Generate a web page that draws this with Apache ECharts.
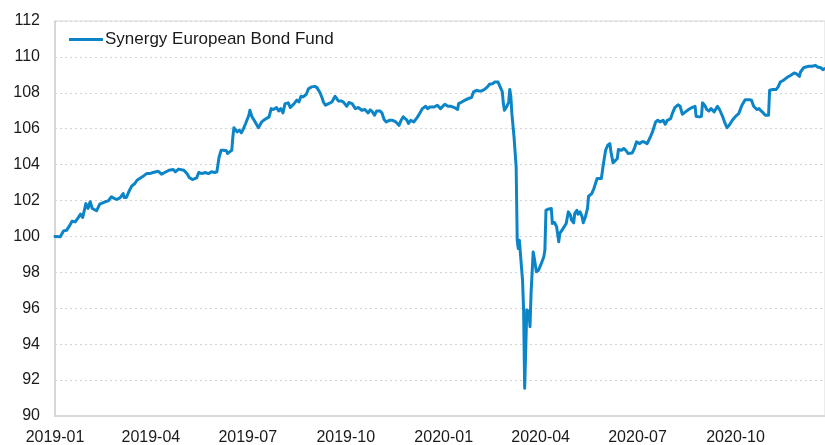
<!DOCTYPE html>
<html><head><meta charset="utf-8">
<script src="https://cdn.jsdelivr.net/npm/echarts@6/dist/echarts.min.js"></script>
<style>html,body{margin:0;padding:0;background:#fff}#c{width:825px;height:445px}</style>
</head><body><div id="c"></div>
<script>
const seriesName = 'Synergy European Bond Fund';
const xTickLabels = ['2019-01','2019-04','2019-07','2019-10','2020-01','2020-04','2020-07','2020-10'];
const yTicks = [90,92,94,96,98,100,102,104,106,108,110,112];
const dates = [
'2019-01-01','2019-01-06','2019-01-07','2019-01-09','2019-01-12','2019-01-15','2019-01-17','2019-01-20','2019-01-23','2019-01-25',
'2019-01-27','2019-01-29','2019-01-30','2019-02-01','2019-02-03','2019-02-05','2019-02-09','2019-02-12','2019-02-17','2019-02-20',
'2019-02-23','2019-02-26','2019-02-28','2019-03-03','2019-03-06','2019-03-07','2019-03-09','2019-03-12','2019-03-14','2019-03-17',
'2019-03-19','2019-03-20','2019-03-24','2019-03-28','2019-03-31','2019-04-03','2019-04-08','2019-04-11','2019-04-14','2019-04-18',
'2019-04-22','2019-04-24','2019-04-27','2019-05-02','2019-05-05','2019-05-07','2019-05-10','2019-05-14','2019-05-16','2019-05-19',
'2019-05-22','2019-05-25','2019-05-28','2019-05-31','2019-06-02','2019-06-04','2019-06-06','2019-06-08','2019-06-11','2019-06-12',
'2019-06-14','2019-06-16','2019-06-17','2019-06-18','2019-06-21','2019-06-23','2019-06-25','2019-06-27','2019-06-29','2019-07-02',
'2019-07-03','2019-07-05','2019-07-07','2019-07-11','2019-07-14','2019-07-17','2019-07-21','2019-07-23','2019-07-25','2019-07-28',
'2019-07-30','2019-08-01','2019-08-03','2019-08-05','2019-08-08','2019-08-10','2019-08-13','2019-08-16','2019-08-18','2019-08-20',
'2019-08-22','2019-08-25','2019-08-27','2019-08-30','2019-09-02','2019-09-04','2019-09-07','2019-09-09','2019-09-10','2019-09-12',
'2019-09-15','2019-09-18','2019-09-21','2019-09-24','2019-09-27','2019-09-29','2019-10-02','2019-10-04','2019-10-07','2019-10-10',
'2019-10-13','2019-10-16','2019-10-19','2019-10-22','2019-10-24','2019-10-26','2019-10-28','2019-10-30','2019-11-02','2019-11-04',
'2019-11-06','2019-11-08','2019-11-11','2019-11-14','2019-11-17','2019-11-20','2019-11-22','2019-11-24','2019-11-27','2019-11-29',
'2019-12-01','2019-12-04','2019-12-07','2019-12-09','2019-12-12','2019-12-15','2019-12-17','2019-12-19','2019-12-23','2019-12-26',
'2019-12-27','2019-12-29','2020-01-02','2020-01-05','2020-01-08','2020-01-11','2020-01-14','2020-01-15','2020-01-18','2020-01-21',
'2020-01-24','2020-01-27','2020-01-29','2020-02-01','2020-02-03','2020-02-05','2020-02-08','2020-02-11','2020-02-13','2020-02-16',
'2020-02-18','2020-02-19','2020-02-21','2020-02-23','2020-02-25','2020-02-26','2020-02-27','2020-02-29','2020-03-02','2020-03-03',
'2020-03-04','2020-03-05','2020-03-07','2020-03-09','2020-03-10','2020-03-11','2020-03-12','2020-03-15','2020-03-16','2020-03-17',
'2020-03-19','2020-03-21','2020-03-22','2020-03-23','2020-03-25','2020-03-26','2020-03-28','2020-03-30','2020-04-01','2020-04-04',
'2020-04-05','2020-04-06','2020-04-08','2020-04-11','2020-04-12','2020-04-14','2020-04-16','2020-04-18','2020-04-19','2020-04-22',
'2020-04-25','2020-04-27','2020-04-29','2020-04-30','2020-05-02','2020-05-03','2020-05-05','2020-05-06','2020-05-08','2020-05-10',
'2020-05-11','2020-05-13','2020-05-15','2020-05-16','2020-05-19','2020-05-21','2020-05-24','2020-05-25','2020-05-28','2020-05-30',
'2020-06-01','2020-06-03','2020-06-05','2020-06-06','2020-06-08','2020-06-09','2020-06-12','2020-06-13','2020-06-16','2020-06-18',
'2020-06-20','2020-06-22','2020-06-26','2020-06-28','2020-06-30','2020-07-03','2020-07-05','2020-07-07','2020-07-10','2020-07-11',
'2020-07-13','2020-07-15','2020-07-18','2020-07-20','2020-07-22','2020-07-25','2020-07-27','2020-07-29','2020-08-01','2020-08-03',
'2020-08-05','2020-08-08','2020-08-10','2020-08-12','2020-08-15','2020-08-18','2020-08-21','2020-08-24','2020-08-25','2020-08-28',
'2020-08-30','2020-08-31','2020-09-02','2020-09-04','2020-09-06','2020-09-08','2020-09-11','2020-09-14','2020-09-16','2020-09-19',
'2020-09-21','2020-09-23','2020-09-25','2020-09-28','2020-10-01','2020-10-04','2020-10-07','2020-10-10','2020-10-14','2020-10-16',
'2020-10-18','2020-10-21','2020-10-23','2020-10-25','2020-10-27','2020-10-29','2020-11-01','2020-11-02','2020-11-05','2020-11-08',
'2020-11-10','2020-11-12','2020-11-15','2020-11-17','2020-11-19','2020-11-22','2020-11-25','2020-11-27','2020-11-30','2020-12-01',
'2020-12-04','2020-12-06','2020-12-09','2020-12-12','2020-12-15','2020-12-17','2020-12-18','2020-12-20','2020-12-22','2020-12-23',
'2020-12-24'
];
const values = [
100.00,99.98,99.89,100.31,100.35,100.63,100.85,100.81,101.06,101.24,
101.06,101.56,101.83,101.56,101.93,101.56,101.43,101.80,101.93,101.98,
102.21,102.11,102.06,102.15,102.39,102.17,102.17,102.58,102.80,102.95,
103.13,103.04,103.32,103.50,103.50,103.56,103.63,103.47,103.56,103.69,
103.73,103.60,103.75,103.69,103.50,103.28,103.17,103.26,103.56,103.50,
103.56,103.50,103.60,103.56,103.60,104.40,104.80,104.80,104.77,104.62,
104.71,104.80,105.54,106.06,105.82,105.92,105.77,106.01,106.29,106.75,
107.03,106.66,106.47,106.06,106.38,106.51,106.66,107.12,107.07,107.18,
106.99,107.12,106.88,107.40,107.44,107.18,107.36,107.59,107.49,107.81,
107.77,107.92,108.23,108.33,108.36,108.29,107.99,107.68,107.49,107.31,
107.40,107.49,107.81,107.55,107.55,107.47,107.25,107.46,107.40,107.12,
107.18,107.03,107.07,106.88,107.05,106.94,106.75,106.99,106.99,106.88,
106.51,106.38,106.47,106.47,106.38,106.19,106.47,106.66,106.51,106.29,
106.47,106.38,106.62,106.81,107.12,107.25,107.12,107.21,107.21,107.31,
107.40,107.12,107.36,107.25,107.25,107.18,107.07,107.40,107.49,107.59,
107.68,107.73,108.05,108.14,108.10,108.10,108.18,108.33,108.48,108.51,
108.60,108.70,108.60,108.33,108.05,107.40,107.03,107.21,107.49,108.18,
107.81,106.84,105.54,103.87,99.79,99.33,99.79,97.57,95.90,91.54,
95.90,95.81,94.97,96.83,99.14,98.80,98.03,98.12,98.40,98.87,
99.24,101.46,101.52,101.56,100.72,100.78,100.54,99.70,100.17,100.44,
100.72,101.37,101.19,100.91,100.76,101.28,101.46,101.24,101.37,101.09,
100.76,101.09,101.56,102.24,102.39,102.67,103.23,103.28,103.23,104.06,
104.80,105.08,105.17,104.71,104.10,104.15,104.34,104.84,104.80,104.90,
104.80,104.62,104.65,104.90,105.27,105.17,105.27,105.27,105.17,105.08,
105.54,105.82,106.38,106.47,106.38,106.47,106.25,106.47,106.56,106.90,
107.18,107.33,107.25,106.81,106.94,107.07,107.18,107.25,106.69,106.66,
106.69,107.44,107.31,107.07,106.99,107.12,106.94,107.25,107.07,106.66,
106.32,106.06,106.19,106.47,106.69,106.84,107.31,107.62,107.62,107.59,
107.25,107.07,107.12,106.99,106.88,106.75,106.75,108.14,108.18,108.18,
108.33,108.60,108.70,108.79,108.88,108.98,109.11,109.07,108.92,109.16,
109.40,109.44,109.48,109.48,109.53,109.44,109.35,109.40,109.29,109.35,
109.35
];

const FONT = '"Liberation Sans", Arial, sans-serif';
const toTime = s => { const p = s.split('-').map(Number); return Date.UTC(p[0], p[1]-1, p[2] || 1); };
const tickTimes = xTickLabels.map(toTime);
const pad = n => String(n).padStart(2, '0');

const chart = echarts.init(document.getElementById('c'), null, {renderer: 'canvas'});
chart.setOption({
  animation: false,
  backgroundColor: '#ffffff',
  textStyle: {fontFamily: FONT},
  grid: {left: 55, right: 0, top: 21, bottom: 29, containLabel: false, outerBoundsMode: 'none',
         show: true, borderColor: '#d9d9d9', borderWidth: 1, backgroundColor: 'transparent'},
  legend: {
    show: true, left: 69, top: 31, padding: 0, itemWidth: 34, itemHeight: 14, itemGap: 10,
    itemStyle: {color: '#0b85c8'},
    textStyle: {fontFamily: FONT, fontSize: 17, color: '#1a1a1a', padding: [0,0,0,-3]},
    data: [{name: seriesName, icon: 'path://M0,6 L34,6 L34,9 L0,9 Z'}]
  },
  xAxis: {
    type: 'value',
    min: toTime(dates[0]), max: toTime(dates[dates.length-1]),
    axisLine: {show: true, lineStyle: {color: '#d9d9d9', width: 2}},
    axisTick: {show: false},
    splitLine: {show: false},
    axisLabel: {
      customValues: tickTimes,
      showMinLabel: true, showMaxLabel: true, hideOverlap: false,
      margin: 14, fontSize: 16, color: '#1a1a1a', fontFamily: FONT,
      formatter: v => { const d = new Date(v); return d.getUTCFullYear() + '-' + pad(d.getUTCMonth()+1); }
    }
  },
  yAxis: {
    type: 'value', min: yTicks[0], max: yTicks[yTicks.length-1], interval: yTicks[1]-yTicks[0],
    axisLine: {show: true, lineStyle: {color: '#d0d0d0', width: 1.5}},
    axisTick: {show: false},
    splitLine: {show: true, lineStyle: {color: '#d4d4d4', width: 1, type: [2, 3]}},
    axisLabel: {margin: 15, fontSize: 16, color: '#1a1a1a', fontFamily: FONT}
  },
  series: [{
    name: seriesName, type: 'line', symbol: 'none', showSymbol: false,
    lineStyle: {color: '#0b85c8', width: 3, join: 'round', cap: 'round'},
    itemStyle: {color: '#0b85c8'},
    data: dates.map((d, i) => [toTime(d), values[i]])
  }]
});
</script>
</body></html>
